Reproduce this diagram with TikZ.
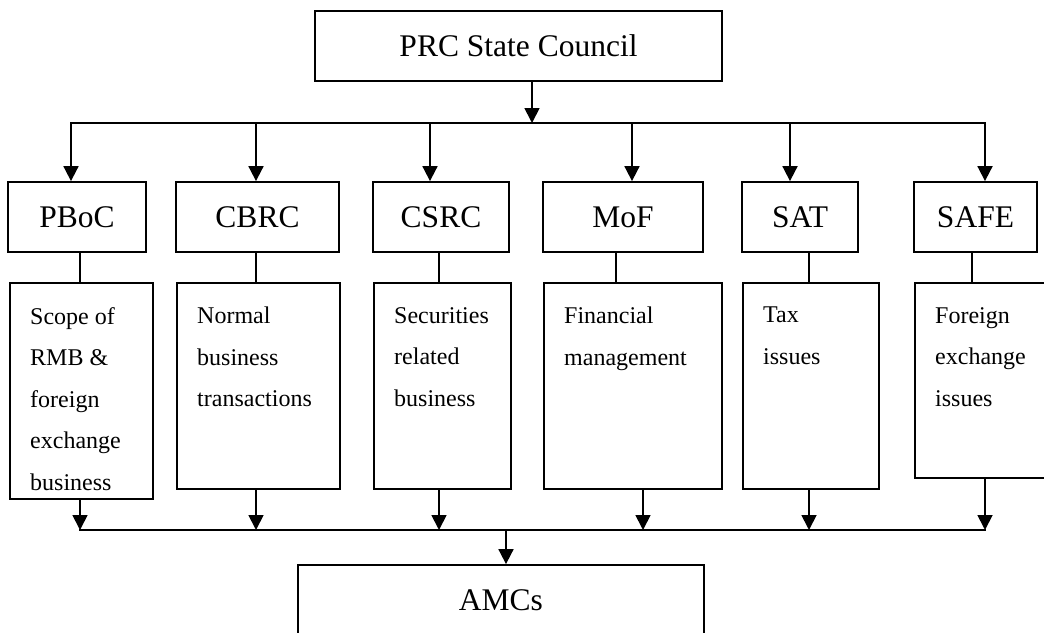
\documentclass[tikz,border=0pt]{standalone}
\usepackage{fontspec}
\setmainfont{Liberation Serif}
\usetikzlibrary{arrows.meta}

\tikzset{
  box/.style={draw, line width=1.8pt, inner sep=0pt, minimum height=70pt,
    font=\fontsize{31.5}{38}\selectfont, text height=21.5pt, text depth=0pt},
  body/.style={draw, line width=1.8pt, inner sep=0pt, anchor=north west},
  bodytext/.style={anchor=north west, inner sep=0pt, align=left,
    font=\fontsize{24}{41.5}\selectfont},
  arr/.style={line width=1.8pt, -{Triangle[width=15pt,length=15pt]}},
  link/.style={line width=1.8pt, line cap=rect}
}

\begin{document}
\begin{tikzpicture}[x=1pt, y=-1pt]
  \useasboundingbox (0,0) rectangle (1044,632);
  \clip (0,0) rectangle (1044,632);
  \def\ytop{123}
  \def\ybot{530}

  % top level
  \node[box, minimum width=407pt] (council) at (518.5,46) {PRC State Council};

  % regulators
  \node[box, minimum width=138pt] (pboc) at (77,217) {PBoC};
  \node[box, minimum width=163pt] (cbrc) at (257.5,217) {CBRC};
  \node[box, minimum width=136pt] (csrc) at (441,217) {CSRC};
  \node[box, minimum width=160pt] (mof) at (623,217) {MoF};
  \node[box, minimum width=116pt] (sat) at (800,217) {SAT};
  \node[box, minimum width=123pt] (safe) at (975.5,217) {SAFE};

  % scopes
  \node[body, minimum width=143pt, minimum height=216pt] (pbocb) at (9,282) {};
  \node[body, minimum width=163pt, minimum height=206pt] (cbrcb) at (176,282) {};
  \node[body, minimum width=137pt, minimum height=206pt] (csrcb) at (373,282) {};
  \node[body, minimum width=178pt, minimum height=206pt] (mofb) at (543,282) {};
  \node[body, minimum width=136pt, minimum height=206pt] (satb) at (742,282) {};
  \node[body, minimum width=142pt, minimum height=195pt] (safeb) at (914,282) {};
  \node[bodytext] (pboct) at ([xshift=21pt,yshift=-25pt]pbocb.north west) {Scope of\\RMB \&\\foreign\\exchange\\business};
  \node[bodytext] (cbrct) at ([xshift=21pt,yshift=-25pt]cbrcb.north west) {Normal\\business\\transactions};
  \node[bodytext] (csrct) at ([xshift=21pt,yshift=-25pt]csrcb.north west) {Securities\\related\\business};
  \node[bodytext] (moft) at ([xshift=21pt,yshift=-25pt]mofb.north west) {Financial\\management};
  \node[bodytext] (satt) at ([xshift=21pt,yshift=-25pt]satb.north west) {Tax\\issues};
  \node[bodytext] (safet) at ([xshift=21pt,yshift=-25pt]safeb.north west) {Foreign\\exchange\\issues};

  % bottom level
  \node[box, minimum width=406pt] (amcs) at (501,600) {AMCs};

  % top bus
  \coordinate (tm) at (532,\ytop);
  \coordinate (t1) at (71,\ytop);
  \coordinate (t2) at (256,\ytop);
  \coordinate (t3) at (430,\ytop);
  \coordinate (t4) at (632,\ytop);
  \coordinate (t5) at (790,\ytop);
  \coordinate (t6) at (985,\ytop);
  \draw[arr] (tm |- council.south) -- (tm);
  \draw[link] (t1) -- (t6);
  \draw[arr] (t1) -- (t1 |- pboc.north);
  \draw[arr] (t2) -- (t2 |- cbrc.north);
  \draw[arr] (t3) -- (t3 |- csrc.north);
  \draw[arr] (t4) -- (t4 |- mof.north);
  \draw[arr] (t5) -- (t5 |- sat.north);
  \draw[arr] (t6) -- (t6 |- safe.north);

  % regulator to scope
  \coordinate (m1) at (80,250);
  \coordinate (m2) at (256,250);
  \coordinate (m3) at (439,250);
  \coordinate (m4) at (616,250);
  \coordinate (m5) at (809,250);
  \coordinate (m6) at (972,250);
  \draw[link, line cap=butt] (m1 |- pboc.south) -- (m1 |- pbocb.north);
  \draw[link, line cap=butt] (m2 |- cbrc.south) -- (m2 |- cbrcb.north);
  \draw[link, line cap=butt] (m3 |- csrc.south) -- (m3 |- csrcb.north);
  \draw[link, line cap=butt] (m4 |- mof.south) -- (m4 |- mofb.north);
  \draw[link, line cap=butt] (m5 |- sat.south) -- (m5 |- satb.north);
  \draw[link, line cap=butt] (m6 |- safe.south) -- (m6 |- safeb.north);

  % bottom bus
  \coordinate (bm) at (506,\ybot);
  \coordinate (b1) at (80,\ybot);
  \coordinate (b2) at (256,\ybot);
  \coordinate (b3) at (439,\ybot);
  \coordinate (b4) at (643,\ybot);
  \coordinate (b5) at (809,\ybot);
  \coordinate (b6) at (985,\ybot);
  \draw[arr] (b1 |- pbocb.south) -- (b1);
  \draw[arr] (b2 |- cbrcb.south) -- (b2);
  \draw[arr] (b3 |- csrcb.south) -- (b3);
  \draw[arr] (b4 |- mofb.south) -- (b4);
  \draw[arr] (b5 |- satb.south) -- (b5);
  \draw[arr] (b6 |- safeb.south) -- (b6);
  \draw[link] (b1) -- (b6);
  \draw[arr] (bm) -- (bm |- amcs.north);
\end{tikzpicture}
\end{document}
